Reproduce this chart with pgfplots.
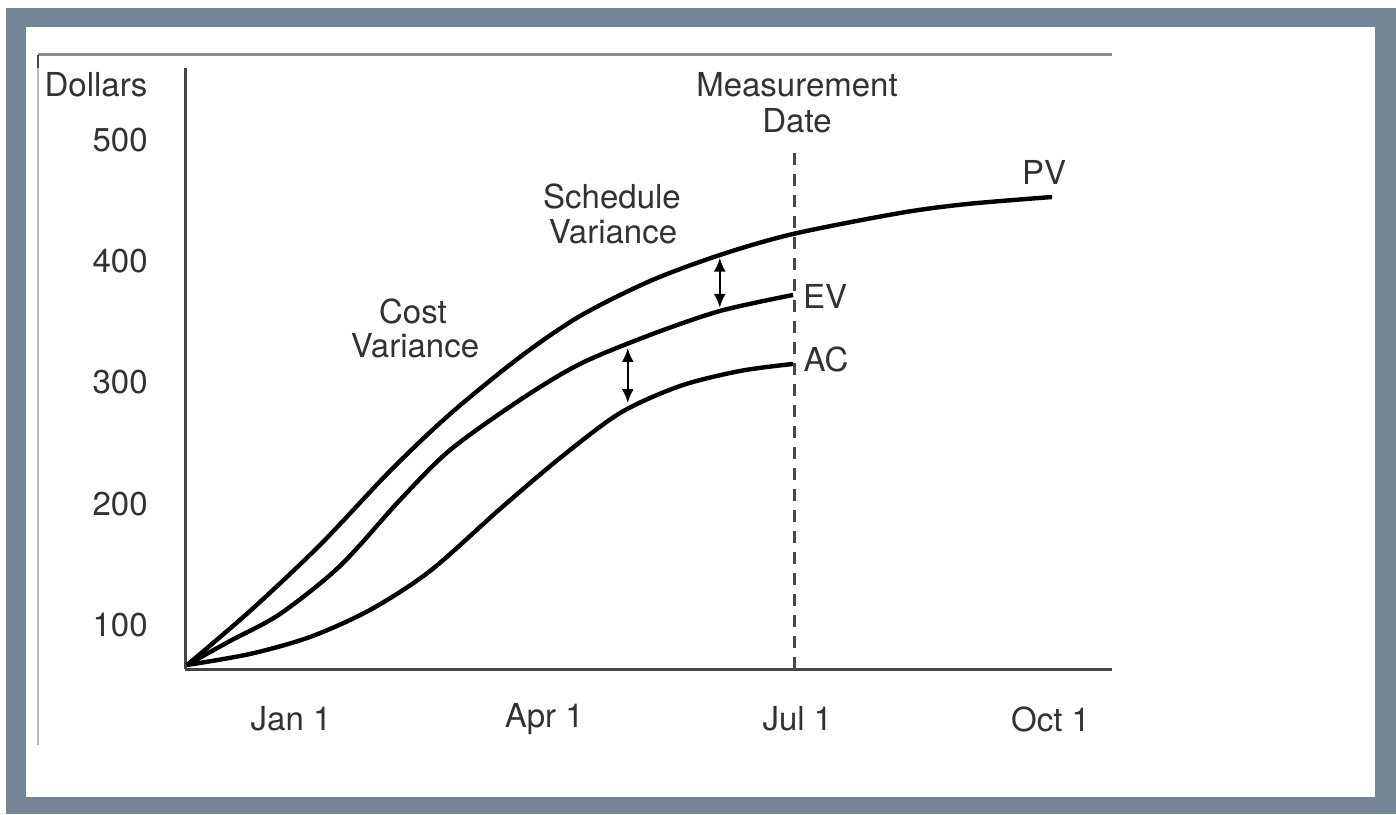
\documentclass[border=0pt]{standalone}
\usepackage{pgfplots}
\pgfplotsset{compat=1.18}
\usepackage{fontspec}
\setmainfont{TeX Gyre Heros}
\usetikzlibrary{arrows.meta}
\definecolor{frame}{RGB}{117,133,149}
\definecolor{txt}{RGB}{50,50,50}
\definecolor{axl}{RGB}{70,70,70}
\definecolor{topl}{RGB}{140,140,140}
\begin{document}
\fontsize{16.5}{19}\selectfont
\begin{tikzpicture}
\begin{scope}[x=0.5pt,y=0.5pt]
\path[use as bounding box] (0,0) rectangle (1396,814);
\fill[white] (0,0) rectangle (1396,814);
\fill[frame] (6,0) rectangle (1396,806);
\fill[white] (26,17) rectangle (1375,787);
\draw[topl!60, line width=1pt] (38,69) -- (38,759);
\draw[topl, line width=1.5pt] (38,759) -- (1112,759);
\draw[axl, line width=1.2pt] (38,759) -- (38,746);
\end{scope}

\begin{axis}[at={(92.5pt,72.5pt)}, anchor=south west, scale only axis,
  width=463.5pt, height=300.5pt,
  xmin=-1.256, xmax=9.727, ymin=63.7, ymax=559.4,
  axis x line=bottom, axis y line=left,
  axis line style={axl, line width=1.5pt, -},
  xtick={0,3,6,9}, xticklabels={Jan 1, Apr 1, Jul 1, Oct 1},
  ytick={100,200,300,400,500},
  major tick length=0pt,
  /pgf/number format/assume math mode=true,
  tick label style={txt, font=\fontsize{16.5}{19}\selectfont},
  xticklabel style={anchor=center, yshift=-25pt},
  yticklabel style={anchor=east, inner sep=0pt, xshift=-18.5pt},
  clip=false]
% PV
\addplot[black, line width=2.2pt, smooth] coordinates {
(-1.232,67.0) (-0.486,111.5) (0.344,166.0) (1.173,227.0) (1.884,274.0)
(2.713,321.0) (3.424,354.8) (4.254,383.7) (5.083,405.2) (5.948,422.5)
(7.216,439.8) (8.009,447.2) (9.017,453.0)};
% EV
\addplot[black, line width=2.2pt, smooth] coordinates {
(-1.232,67.0) (-0.723,86.8) (-0.130,109.1) (0.581,148.7) (1.291,203.1)
(1.884,244.3) (2.713,285.6) (3.424,315.3) (4.254,339.2) (5.083,359.0) (5.948,372.2)};
% AC
\addplot[black, line width=2.2pt, smooth] coordinates {
(-1.232,67.0) (-0.486,76.1) (0.225,90.1) (0.936,112.4) (1.647,144.5)
(2.476,195.7) (3.187,237.7) (3.898,274.8) (4.609,297.1) (5.320,309.5) (5.948,315.3)};
% measurement date
\addplot[axl, line width=1.5pt, dash pattern=on 6pt off 4.5pt] coordinates {(5.96,63.7) (5.96,493.4)};
\draw[<->, >={Latex[length=7pt,width=6pt]}, line width=1.2pt] (axis cs:5.08,403) -- (axis cs:5.08,361.5);
\draw[<->, >={Latex[length=7pt,width=6pt]}, line width=1.2pt] (axis cs:3.99,328.5) -- (axis cs:3.99,283);
\end{axis}

\begin{scope}[x=0.5pt,y=0.5pt, every node/.style={text=txt, inner sep=0pt, font=\fontsize{16.5}{19}\selectfont}]
\node at (96,729) {Dollars};
\node at (797,729) {Measurement};
\node at (797,693) {Date};
\node at (612,618) {Schedule};
\node at (613,582) {Variance};
\node at (413,503) {Cost};
\node at (415,468) {Variance};
\node at (825,518) {EV};
\node at (826,455) {AC};
\node at (1044,642) {PV};
\end{scope}
\end{tikzpicture}
\end{document}
